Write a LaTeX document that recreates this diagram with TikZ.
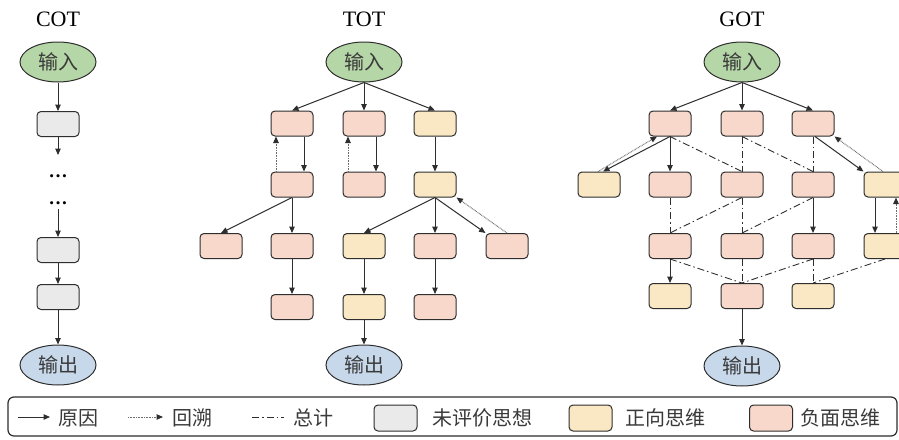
\documentclass[tikz,border=0pt]{standalone}
\usepackage{fontspec}
\setmainfont{Liberation Serif}
\newfontfamily\cjk{Noto Sans CJK SC}
\usetikzlibrary{arrows.meta,shapes.geometric,positioning}

\definecolor{ingreen}{HTML}{B5D6A7}
\definecolor{outblue}{HTML}{C8D8EB}
\definecolor{rawgray}{HTML}{EAEAEA}
\definecolor{proyel}{HTML}{F9E8C3}
\definecolor{conpink}{HTML}{F7D8CB}
\definecolor{edge}{HTML}{2E2E2E}
\definecolor{dotgray}{HTML}{6E6E6E}
\definecolor{txt}{HTML}{3A3A3A}

\begin{document}
\begin{tikzpicture}[x=1pt,y=-1pt,
  coltitle/.style={font=\fontsize{22}{24}\selectfont},
  io/.style={draw=edge,ellipse,minimum width=76pt,minimum height=40pt,inner sep=0pt,line width=1pt,text=txt,font=\cjk\fontsize{20}{22}\selectfont},
  inp/.style={io,fill=ingreen},
  outp/.style={io,fill=outblue},
  thought/.style={draw=edge,rounded corners=4pt,minimum width=42pt,minimum height=25pt,inner sep=0pt,line width=1pt},
  raw/.style={fill=rawgray},
  pro/.style={fill=proyel},
  con/.style={fill=conpink},
  gaps/.style={inner sep=0pt,font=\bfseries\fontsize{19}{19}\selectfont},
  lab/.style={anchor=west,inner sep=0pt,text=txt,font=\cjk\fontsize{20}{22}\selectfont},
  cause/.style={draw=edge,line width=1pt,-{Triangle[length=6.5pt,width=5.5pt]}},
  recall/.style={draw=dotgray,line width=1pt,dash pattern=on 0.8pt off 0.8pt,-{Triangle[length=6.5pt,width=5.5pt,color=edge]}},
  sumup/.style={draw=edge,line width=0.9pt,dash pattern=on 7pt off 3pt on 1.5pt off 3pt}]
\useasboundingbox[fill=white] (0,0) rectangle (899,439);

% chain
\node[coltitle] (cot) at (58,19.5) {COT};
\node[inp] (cin) at (58,62) {输入};
\node[thought,raw] (c1) at (58,124) {};
\node[gaps] (cd1) at (58,176) {…};
\node[gaps] (cd2) at (58,203) {…};
\node[thought,raw] (c2) at (58,250) {};
\node[thought,raw] (c3) at (58,297) {};
\node[outp] (cout) at (58,365) {输出};
\coordinate (cg1) at (58,155);
\coordinate (cg2) at (58,209);
\draw[cause] (cin) -- (c1);
\draw[cause] (c1) -- (cg1);
\draw[cause] (cg2) -- (c2);
\draw[cause] (c2) -- (c3);
\draw[cause] (c3) -- (cout);

% tree
\node[coltitle] (tot) at (364,19.5) {TOT};
\node[inp] (tin) at (364,62) {输入};
\node[thought,con] (t11) at (292,123.5) {};
\node[thought,con] (t12) at (364,123.5) {};
\node[thought,pro] (t13) at (435,123.5) {};
\node[thought,con] (t21) at (292,184.5) {};
\node[thought,con] (t22) at (364,184.5) {};
\node[thought,pro] (t23) at (435,184.5) {};
\node[thought,con] (t31) at (221,246) {};
\node[thought,con] (t32) at (292,246) {};
\node[thought,pro] (t33) at (364,246) {};
\node[thought,con] (t34) at (435,246) {};
\node[thought,con] (t35) at (507,246) {};
\node[thought,con] (t41) at (292,307) {};
\node[thought,pro] (t42) at (364,307) {};
\node[thought,con] (t43) at (435,307) {};
\node[outp] (tout) at (364,365) {输出};
\draw[cause] (tin.south) -- (t11.north);
\draw[cause] (tin) -- (t12);
\draw[cause] (tin.south) -- (t13.north);
\draw[recall] ([xshift=-16]t21.north) -- ([xshift=-16]t11.south);
\draw[cause] ([xshift=12]t11.south) -- ([xshift=12]t21.north);
\draw[recall] ([xshift=-16]t22.north) -- ([xshift=-16]t12.south);
\draw[cause] ([xshift=12]t12.south) -- ([xshift=12]t22.north);
\draw[cause] (t13) -- (t23);
\draw[cause] (t21.south) -- (t31.north);
\draw[cause] (t21) -- (t32);
\draw[cause] (t23.south) -- (t33.north);
\draw[cause] (t23) -- (t34);
\draw[cause] (t23.south) -- (t35.north west);
\draw[recall] (t35.north) -- (t23.south east);
\draw[cause] (t32) -- (t41);
\draw[cause] (t33) -- (t42);
\draw[cause] (t34) -- (t43);
\draw[cause] (t42) -- (tout);

% graph
\node[coltitle] (got) at (742,19.5) {GOT};
\node[inp] (gin) at (742,62) {输入};
\node[thought,con] (g11) at (670,123.5) {};
\node[thought,con] (g12) at (742,123.5) {};
\node[thought,con] (g13) at (813,123.5) {};
\node[thought,pro] (g21) at (599,184.5) {};
\node[thought,con] (g22) at (670,184.5) {};
\node[thought,con] (g23) at (742,184.5) {};
\node[thought,con] (g24) at (813,184.5) {};
\node[thought,pro] (g25) at (885,184.5) {};
\node[thought,con] (g31) at (670,246) {};
\node[thought,con] (g32) at (742,246) {};
\node[thought,con] (g33) at (813,246) {};
\node[thought,pro] (g34) at (885,246) {};
\node[thought,pro] (g41) at (670,296) {};
\node[thought,con] (g42) at (742,296) {};
\node[thought,pro] (g43) at (813,296) {};
\node[outp] (gout) at (742,366) {输出};
\draw[cause] (gin.south) -- (g11.north);
\draw[cause] (gin) -- (g12);
\draw[cause] (gin.south) -- (g13.north);
\draw[cause] (g11.south) -- ([xshift=4]g21.north);
\draw[recall] ([xshift=-1]g21.north) -- ([xshift=-13]g11.south);
\draw[cause] (g11) -- (g22);
\draw[sumup] (g11.south) -- (g23.north);
\draw[sumup] (g12) -- (g23);
\draw[sumup] (g12.south) -- (g24.north);
\draw[sumup] (g13) -- (g24);
\draw[cause] ([xshift=2]g13.south) -- (g25.north west);
\draw[recall] ([xshift=-2]g25.north) -- (g13.south east);
\draw[sumup] (g22) -- (g31);
\draw[sumup] (g23.south) -- (g31.north);
\draw[sumup] (g23) -- (g32);
\draw[sumup] (g24.south) -- (g32.north);
\draw[cause] (g24) -- (g33);
\draw[cause] ([xshift=-10]g25.south) -- ([xshift=-10]g34.north);
\draw[recall] ([xshift=11]g34.north) -- ([xshift=11]g25.south);
\draw[cause] (g31) -- (g41);
\draw[sumup] (g31.south) -- (g42.north);
\draw[sumup] (g32) -- (g42);
\draw[sumup] (g33.south) -- (g42.north);
\draw[sumup] (g33) -- (g43);
\draw[sumup] (g34.south) -- (g43.north);
\draw[cause] (g42) -- (gout);

% legend
\draw[draw=edge,line width=1.2pt,rounded corners=6pt] (8,397) rectangle (897,436);
\coordinate (k1a) at (18,417);
\coordinate (k1b) at (50,417);
\coordinate (k2a) at (128,417);
\coordinate (k2b) at (163,417);
\coordinate (k3a) at (252,417);
\coordinate (k3b) at (284,417);
\draw[cause] (k1a) -- (k1b);
\node[lab] (k1) at (58,418) {原因};
\draw[recall] (k2a) -- (k2b);
\node[lab] (k2) at (172,418) {回溯};
\draw[sumup] (k3a) -- (k3b);
\node[lab] (k3) at (293,418) {总计};
\node[thought,raw,minimum width=43pt,minimum height=26pt] (k4box) at (395.5,418) {};
\node[lab] (k4) at (432,418) {未评价思想};
\node[thought,pro,minimum width=43pt,minimum height=26pt] (k5box) at (590.5,418) {};
\node[lab] (k5) at (625,418) {正向思维};
\node[thought,con,minimum width=43pt,minimum height=26pt] (k6box) at (771,418) {};
\node[lab] (k6) at (800,418) {负面思维};
\end{tikzpicture}
\end{document}
